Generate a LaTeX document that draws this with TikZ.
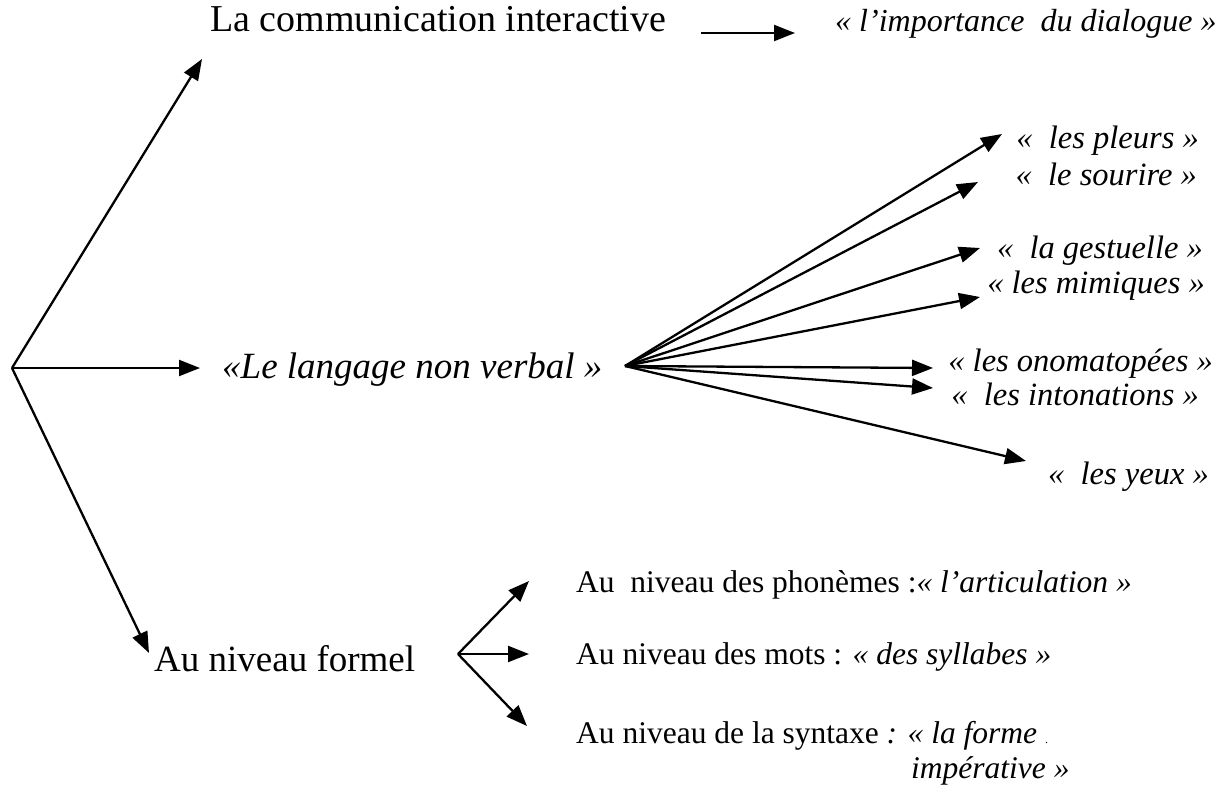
\documentclass[tikz,border=0pt]{standalone}
\usepackage{fontspec}
\setmainfont{Liberation Serif}
\usetikzlibrary{arrows.meta}
\begin{document}
\begin{tikzpicture}[x=1pt,y=-1pt,
  arr/.style={line width=2.3pt,-{Triangle[length=21pt,width=16pt]}},
  big/.style={font=\fontsize{38}{44}\selectfont,inner sep=0pt},
  bigit/.style={font=\fontsize{37}{44}\selectfont\itshape,inner sep=0pt},
  mid/.style={font=\fontsize{32.5}{38}\selectfont\itshape,inner sep=0pt},
  small/.style={font=\fontsize{31.5}{36}\selectfont,inner sep=0pt}]
\useasboundingbox (0,0) rectangle (1222,792);
% root
\coordinate (root) at (12,368);
\node[big,anchor=base west] (comm) at (210,32) {La communication interactive};
\node[mid,anchor=base west,font=\fontsize{32}{38}\selectfont\itshape] (dial) at (835,32) {«~l’importance~~du dialogue~»};
\node[bigit,anchor=base west] (lang) at (222,378) {«Le langage non verbal~»};
\node[big,anchor=base west,font=\fontsize{37}{44}\selectfont] (form) at (154,671) {Au niveau formel};
\coordinate (t0) at (202,59);
\coordinate (tl) at (200,368);
\coordinate (tf) at (149,653);
\coordinate (ca) at (701,33);
\coordinate (cb) at (795,33);
\draw[arr] (root) -- (t0);
\draw[arr] (root) -- (tl);
\draw[arr] (root) -- (tf);
\draw[arr] (ca) -- (cb);
% fan
\coordinate (fan) at (625,366);
\node[mid,anchor=base east] (p1) at (1199,148) {«~~les pleurs~»};
\node[mid,anchor=base east] (p2) at (1197,185) {«~~le sourire~»};
\node[mid,anchor=base east] (p3) at (1203,258) {«~~la gestuelle~»};
\node[mid,anchor=base east] (p4) at (1205,293) {«~les mimiques~»};
\node[mid,anchor=base east] (p5) at (1213,371) {«~les onomatopées~»};
\node[mid,anchor=base east] (p6) at (1199,405) {«~~les intonations~»};
\node[mid,anchor=base east] (p7) at (1209,484) {«~~les yeux~»};
\coordinate (q1) at (1002,134);
\coordinate (q2) at (978,182);
\coordinate (q3) at (980,248);
\coordinate (q4) at (980,297);
\coordinate (q5) at (933,368);
\coordinate (q6) at (933,388);
\coordinate (q7) at (1026,461);
\foreach \q in {q1,q2,q3,q4,q5,q6,q7} \draw[arr] (fan) -- (\q);
% bottom fan
\coordinate (sub) at (458,654);
\coordinate (s1) at (529,581);
\coordinate (s2) at (529,654);
\coordinate (s3) at (527,726);
\foreach \s in {s1,s2,s3} \draw[arr] (sub) -- (\s);
\node[small,anchor=base west] (b1) at (576,592) {Au~~niveau des phonèmes :\textit{«~l’articulation~»}};
\node[small,anchor=base west] (b2) at (576,664) {Au niveau des mots : \textit{«~des syllabes~»}};
\node[small,anchor=base west] (b3) at (576,743) {Au niveau de la syntaxe \textit{: «~la forme~}{\fontsize{12}{12}\selectfont .}};
\node[small,anchor=base west] (b4) at (911,778) {\textit{impérative~»}};
\end{tikzpicture}
\end{document}
